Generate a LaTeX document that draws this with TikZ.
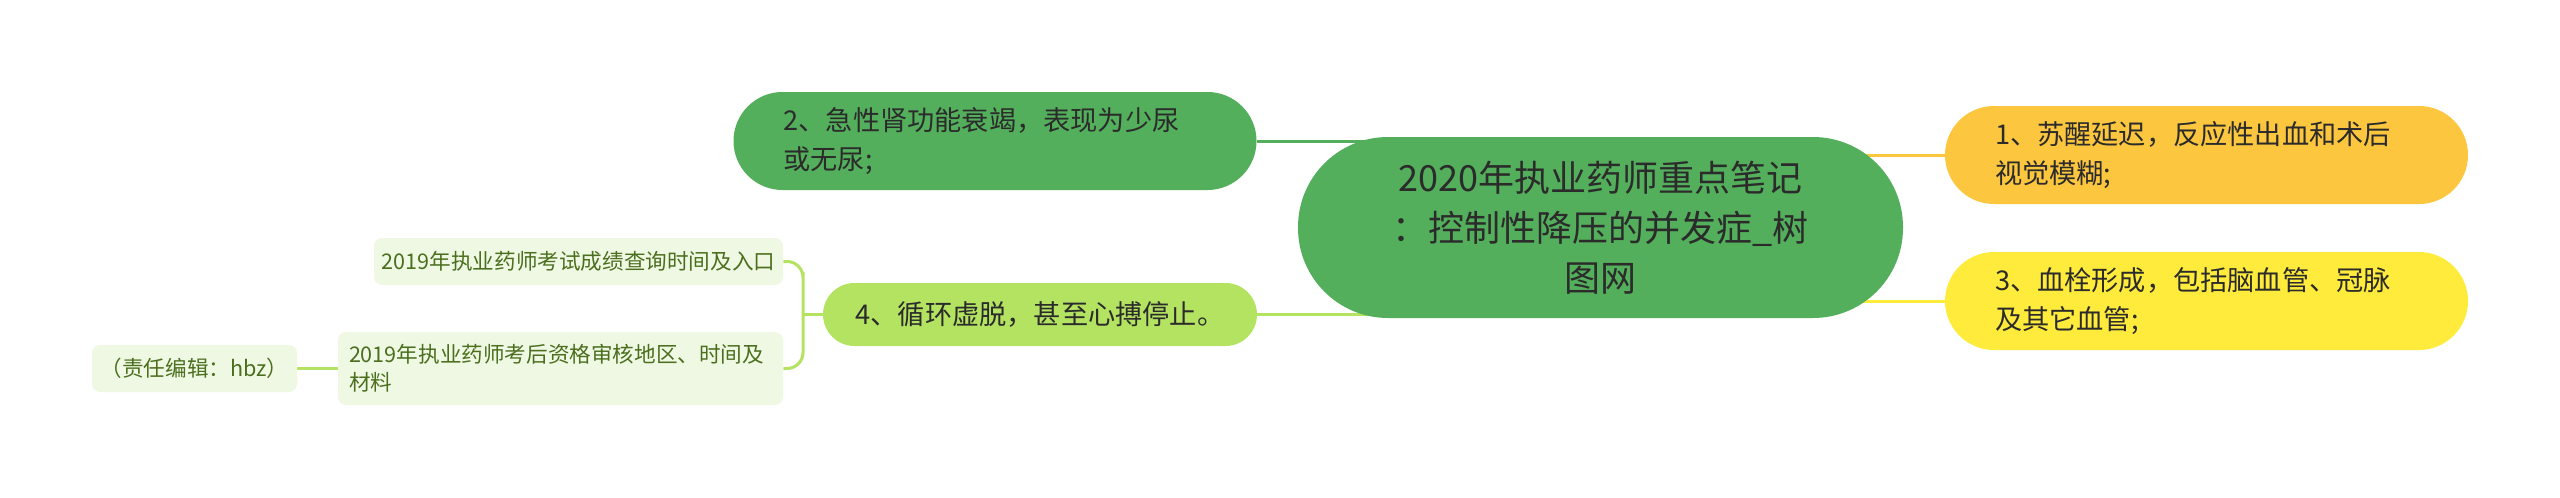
\documentclass[tikz,border=0pt]{standalone}
\usepackage{fontspec}
\newfontfamily\cjk{Noto Sans CJK SC}
\usetikzlibrary{backgrounds,calc}
\definecolor{rootgreen}{HTML}{53AF5B}
\definecolor{lightgreen}{HTML}{B4E362}
\definecolor{orangeone}{HTML}{FCC73E}
\definecolor{yellowthree}{HTML}{FFEB3B}
\definecolor{leaffill}{HTML}{EFF8E3}
\definecolor{leaftext}{HTML}{4B6F1E}
\definecolor{ink}{HTML}{2B2B2B}
\begin{document}
\begin{tikzpicture}[
  x=0.5pt, y=-0.5pt,
  every node/.style={font=\cjk, text=ink, inner sep=0pt},
  root/.style={fill=rootgreen, rounded corners=45pt, minimum width=302.5pt,
    minimum height=90.5pt, align=center, font=\cjk\fontsize{18}{25}\selectfont},
  topic/.style={rounded corners=24.5pt, text width=211.5pt, inner xsep=25pt,
    minimum height=49pt, align=left, font=\cjk\fontsize{13.6}{19.5}\selectfont},
  leaf/.style={fill=leaffill, text=leaftext, rounded corners=4pt,
    minimum height=23.5pt, font=\cjk\fontsize{10.8}{14}\selectfont},
  link/.style={line width=1.5pt}
]
\useasboundingbox (0,0) rectangle (2560,498);

\node[root] (root) at (1600.5,227.5) {2020年执业药师重点笔记\\：控制性降压的并发症\_树\\图网};

\node[topic, fill=rootgreen] (n2) at (995,141) {2、急性肾功能衰竭，表现为少尿\\或无尿;};
\node[topic, fill=lightgreen, text width=, inner xsep=0pt, minimum width=217pt,
  minimum height=31.5pt, rounded corners=15.75pt, align=center] (n4) at (1040,314.5) {4、循环虚脱，甚至心搏停止。};
\node[topic, fill=orangeone] (n1) at (2206.5,155) {1、苏醒延迟，反应性出血和术后\\视觉模糊;};
\node[topic, fill=yellowthree] (n3) at (2206.5,301) {3、血栓形成，包括脑血管、冠脉\\及其它血管;};

\node[leaf, minimum width=204.5pt] (la) at (578.5,261.5) {2019年执业药师考试成绩查询时间及入口};
\node[leaf, text width=211.5pt, inner xsep=5.5pt, minimum height=36.5pt, align=left] (lb) at (560.5,368.5) {2019年执业药师考后资格审核地区、时间及\\材料};
\node[leaf, minimum width=102.5pt] (lc) at (194.5,368.5) {（责任编辑：hbz）};

\coordinate (fork) at ($(la.east)!0.5!(n4.west)$);

\begin{scope}[on background layer]
  \draw[link, draw=rootgreen] (n2.east) -- (n2.east -| root.center);
  \draw[link, draw=lightgreen] (n4.east) -- (n4.east -| root.center);
  \draw[link, draw=orangeone] (root.center |- n1.west) -- (n1.west);
  \draw[link, draw=yellowthree] (root.center |- n3.west) -- (n3.west);
  % leaves of 4
  \draw[link, draw=lightgreen, rounded corners=8pt] (la.east) -| (fork) |- (lb.east);
  \draw[link, draw=lightgreen] (n4.west) -- (fork |- n4.west);
  \draw[link, draw=lightgreen] (lb.west) -- (lc.east);
\end{scope}
\end{tikzpicture}
\end{document}
